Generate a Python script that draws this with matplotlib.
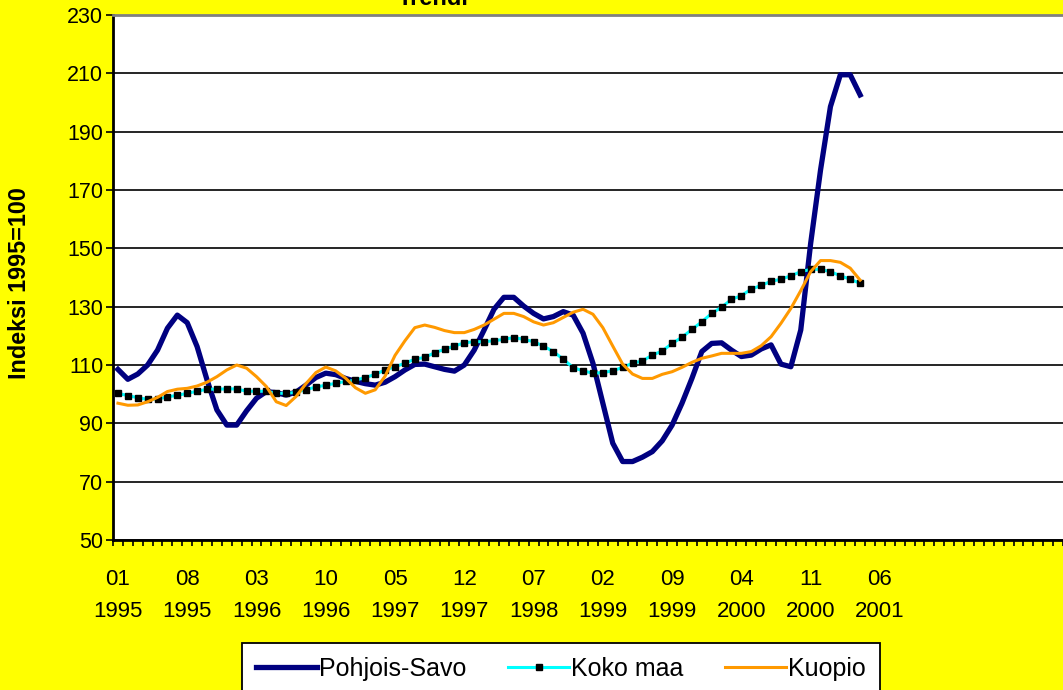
import matplotlib
matplotlib.use("Agg")
from matplotlib import pyplot as plt

plt.rcParams["font.family"] = ["Liberation Sans", "DejaVu Sans"]

# monthly index values, 01/1995 .. 04/2001 (1995=100)
pohjois_savo = [
    108.5, 105.1, 106.9, 110.0, 115.1, 122.6, 127.1, 124.5, 116.3, 104.9,
    94.6, 89.4, 89.4, 94.3, 98.6, 100.9, 100.5, 99.7, 100.7, 103.1,
    105.7, 107.2, 106.7, 105.4, 104.4, 103.6, 103.1, 104.1, 106.0, 108.3,
    110.2, 110.3, 109.4, 108.5, 107.9, 110.0, 115.1, 122.0, 129.1, 133.2,
    133.2, 130.2, 127.7, 125.8, 126.6, 128.3, 127.1, 120.9, 110.6, 96.9,
    83.2, 76.9, 76.9, 78.4, 80.3, 84.0, 89.4, 96.9, 105.4, 114.6,
    117.4, 117.6, 115.1, 112.9, 113.4, 115.5, 116.9, 110.3, 109.4, 122.0,
    151.7, 176.9, 198.6, 209.5, 209.5, 202.6,
]
koko_maa = [
    100.3, 99.5, 98.8, 98.2, 98.3, 99.1, 99.6, 100.3, 101.0, 101.7,
    101.7, 101.8, 101.8, 101.0, 101.0, 101.0, 100.3, 100.3, 100.6, 101.6,
    102.4, 103.1, 103.7, 104.4, 104.8, 105.7, 106.8, 108.3, 109.4, 110.6,
    112.0, 112.6, 114.2, 115.4, 116.5, 117.6, 118.0, 118.0, 118.3, 118.8,
    119.4, 118.8, 118.0, 116.5, 114.6, 112.0, 109.1, 108.0, 107.2, 107.4,
    108.0, 109.2, 110.6, 111.4, 113.4, 114.8, 117.4, 119.5, 122.2, 124.8,
    127.7, 129.8, 132.5, 133.8, 136.0, 137.3, 138.7, 139.4, 140.6, 142.0,
    142.8, 142.8, 142.0, 140.6, 139.4, 138.0,
]
kuopio = [
    96.9, 96.2, 96.3, 97.4, 98.9, 100.9, 101.7, 102.0, 102.8, 104.1,
    106.0, 108.3, 110.0, 108.9, 106.0, 102.6, 97.4, 96.1, 99.2, 103.6,
    107.4, 109.3, 108.0, 105.5, 102.2, 100.3, 101.5, 106.2, 113.3, 118.3,
    122.8, 123.7, 122.9, 121.8, 121.1, 121.1, 122.2, 123.7, 125.7, 127.7,
    127.7, 126.6, 124.8, 123.7, 124.5, 126.3, 128.1, 129.1, 127.4, 122.8,
    116.5, 110.3, 106.9, 105.4, 105.4, 106.8, 107.7, 109.2, 110.9, 112.3,
    113.1, 114.0, 114.0, 114.0, 114.6, 116.6, 119.7, 124.3, 129.4, 135.5,
    142.0, 145.8, 145.8, 145.2, 143.2, 139.1,
]
tick_labels = ["01\n1995", "08\n1995", "03\n1996", "10\n1996", "05\n1997",
               "12\n1997", "07\n1998", "02\n1999", "09\n1999", "04\n2000",
               "11\n2000", "06\n2001"]
label_step = 7
n_categories = 96

W, H = 1063, 690
fig = plt.figure(figsize=(W / 100, H / 100), dpi=100, facecolor="#FFFF00")
ax = fig.add_axes([113 / W, 1 - 540 / H, 1 - 113 / W, 525 / H])
ax.set_facecolor("white")

x = list(range(len(pohjois_savo)))
ax.plot(x, pohjois_savo, color="#000080", lw=3.8, solid_joinstyle="round",
        label="Pohjois-Savo", zorder=3)
ax.plot(x, koko_maa, color="#00FFFF", lw=2.2, marker="s", markersize=4.6,
        markerfacecolor="black", markeredgecolor="black",
        label="Koko maa", zorder=4)
ax.plot(x, kuopio, color="#FF9900", lw=2.2, label="Kuopio", zorder=5)

ax.set_ylim(50, 230)
ax.set_yticks(range(50, 231, 20))
ax.yaxis.grid(True, color="black", lw=1.2)
ax.set_axisbelow(True)
ax.tick_params(axis="y", direction="out", length=5, width=1.2,
               labelsize=15.5, pad=2)

ax.set_xlim(-0.5, n_categories - 0.5)
ax.set_xticks([i - 0.5 for i in range(n_categories + 1)])
ax.set_xticklabels([])
ax.tick_params(axis="x", which="major", direction="out", length=4.3, width=1.2)
ax.set_xticks([i * label_step for i in range(len(tick_labels))],
              tick_labels, minor=True)
ax.tick_params(axis="x", which="minor", length=0, pad=21, labelsize=16)
for lab in ax.get_xticklabels(minor=True):
    lab.set_linespacing(1.65)

ax.spines["right"].set_visible(False)
ax.spines["top"].set_color("#808080")
ax.spines["top"].set_linewidth(2)
ax.spines["left"].set_linewidth(2)
ax.spines["bottom"].set_linewidth(2)

fig.text(20 / W, 1 - 283 / H, "Indeksi 1995=100", rotation=90,
         ha="center", va="center", fontsize=16.8, fontweight="bold")

fig.text(433 / W, 1 - 5 / H, "Trendi", ha="center", va="baseline",
         fontsize=17, fontweight="bold")

leg = fig.legend(loc="upper center", bbox_to_anchor=(561 / W, 1 - 643 / H),
                 ncol=3, fontsize=18, frameon=True, fancybox=False,
                 edgecolor="black", framealpha=1, handlelength=2.45,
                 handletextpad=0.08, columnspacing=1.65, borderpad=0.55,
                 borderaxespad=0)
leg.get_frame().set_linewidth(1.3)

fig.savefig("out.png", dpi=100, facecolor=fig.get_facecolor())
